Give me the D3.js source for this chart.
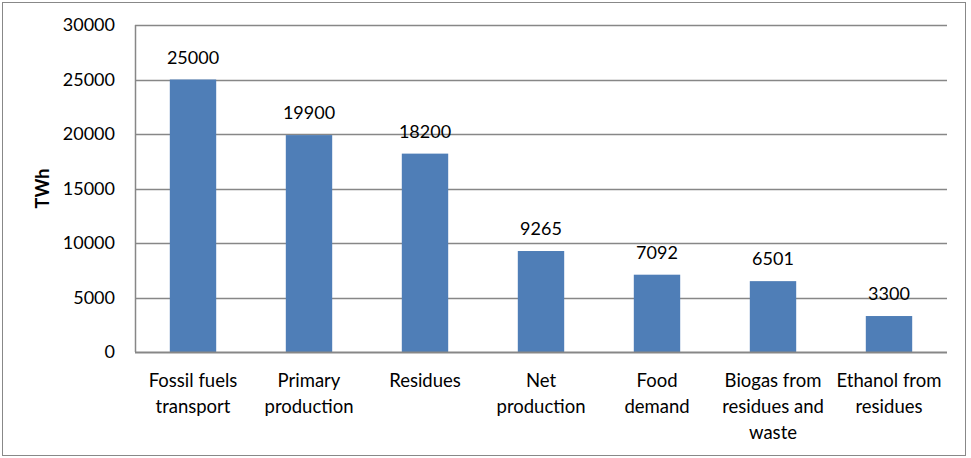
<!DOCTYPE html>
<html><head><meta charset="utf-8">
<script src="https://cdn.jsdelivr.net/npm/d3@7/dist/d3.min.js"></script>
<style>body{margin:0;background:#fff;} svg{display:block;}</style>
</head><body>
<svg id="c" width="971" height="458"></svg>
<script>
const categories = [
  ["Fossil fuels","transport"],
  ["Primary","production"],
  ["Residues"],
  ["Net","production"],
  ["Food","demand"],
  ["Biogas from","residues and","waste"],
  ["Ethanol from","residues"]
];
const values = [25000, 19900, 18200, 9265, 7092, 6501, 3300];
const yTicks = [0, 5000, 10000, 15000, 20000, 25000, 30000];
const yLabel = "TWh";

const svg = d3.select("#c");
const font = "Lato, 'Open Sans', sans-serif";
const m = {left:135, top:25, right:947, bottom:352};

svg.append("rect").attr("x",2.5).attr("y",2.5).attr("width",963).attr("height",453)
  .attr("fill","#fff").attr("stroke","#888").attr("stroke-width",1);

const x = d3.scaleBand().domain(d3.range(values.length)).range([m.left, m.right]).paddingInner(0.6).paddingOuter(0.3);
const y = d3.scaleLinear().domain([0,30000]).range([m.bottom, m.top]);

// gridlines
svg.append("g").selectAll("line").data(yTicks.slice(1)).join("line")
  .attr("x1",m.left).attr("x2",m.right)
  .attr("y1",d=>Math.round(y(d))+0.5).attr("y2",d=>Math.round(y(d))+0.5)
  .attr("stroke","#878787").attr("stroke-width",1.3);

// y axis
const ya = d3.axisLeft(y).tickValues(yTicks).tickFormat(d3.format("d")).tickSize(0).tickPadding(20);
const gy = svg.append("g").attr("transform",`translate(${m.left},0)`).call(ya);
gy.select(".domain").remove();
gy.selectAll("text").attr("font-family",font).attr("font-size",18).attr("fill","#000");
svg.append("line").attr("x1",m.left+0.5).attr("x2",m.left+0.5).attr("y1",m.top).attr("y2",m.bottom)
  .attr("stroke","#878787").attr("stroke-width",1.5);

// bars
svg.append("g").selectAll("rect").data(values).join("rect")
  .attr("x",(d,i)=>x(i)).attr("width",x.bandwidth())
  .attr("y",d=>y(d)).attr("height",d=>y(0)-y(d))
  .attr("fill","#4F7EB7");

// x axis line
svg.append("line").attr("x1",m.left).attr("x2",m.right).attr("y1",m.bottom+0.5).attr("y2",m.bottom+0.5)
  .attr("stroke","#878787").attr("stroke-width",2);

// value labels
svg.append("g").selectAll("text").data(values).join("text")
  .attr("x",(d,i)=>x(i)+x.bandwidth()/2).attr("y",d=>y(d)-16)
  .attr("text-anchor","middle").attr("font-family",font).attr("font-size",18).attr("fill","#000")
  .text(d=>d);

// category labels
const gc = svg.append("g");
categories.forEach((lines,i)=>{
  const t = gc.append("text").attr("text-anchor","middle").attr("font-family",font).attr("font-size",18.5).attr("fill","#000");
  lines.forEach((s,j)=>{
    t.append("tspan").attr("x",x(i)+x.bandwidth()/2).attr("y",387+j*26).text(s);
  });
});

// y label
svg.append("text").attr("transform",`translate(49,${(m.top+m.bottom)/2}) rotate(-90)`)
  .attr("text-anchor","middle").attr("font-family",font).attr("font-size",18).attr("font-weight","bold")
  .attr("fill","#000").text(yLabel);
</script>
</body></html>
